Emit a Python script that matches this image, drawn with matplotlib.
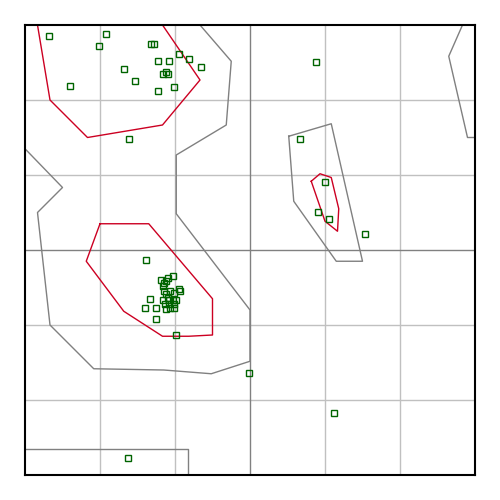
import numpy as np
import matplotlib.pyplot as plt

# Ramachandran-style plot: phi (x) vs psi (y), degrees

# core regions (red outlines)
core_beta_phi = [-170, -70, -40, -70, -130, -160, -170]
core_beta_psi = [180, 180, 136, 100, 90, 120, 180]
core_alpha_phi = [-120, -81, -30, -30, -49, -70, -101, -131, -120]
core_alpha_psi = [21, 21, -39, -68, -69, -69, -49, -9, 21]
core_left_phi = [49, 56, 65, 71, 70, 60, 49]
core_left_psi = [55, 61, 58, 33, 15, 23, 55]

# allowed regions (gray outlines)
allow_main_phi = [-40, -15, -19, -59, -59, 0, 0, -31, -69, -125, -160, -170, -150, -180, -180, -40]
allow_main_psi = [180, 151, 100, 76, 29, -48, -89, -99, -96, -95, -60, 30, 50, 81, 180, 180]
allow_wrap_phi = [-180, -50, -50]
allow_wrap_psi = [-159, -159, -180]
allow_right_phi = [170, 159, 174, 180]
allow_right_psi = [180, 155, 90, 90]
allow_left_phi = [31, 65, 90, 69, 35, 31]
allow_left_psi = [91, 101, -9, -9, 39, 91]

# residues
phi = [-161, -115, -121, -79, -77, -57, -49, -74, -65, -101, -39, -70, -67, -66,
       -92, -144, -61, -74, -97,
       53, 40, 60, 54, 63, 92,
       -83, -59, -1, 67, -98,
       -62, -66, -71, -67, -69, -70, -57, -69, -64, -56, -61, -67, -80, -70,
       -65, -62, -59, -66, -84, -75, -68, -65, -61, -67, -64, -61, -75]
psi = [171, 173, 163, 165, 165, 157, 153, 151, 151, 145, 146, 141, 142, 141,
       135, 131, 130, 127, 89,
       150, 89, 54, 30, 25, 13,
       -8, -68, -98, -130, -166,
       -21, -22, -24, -25, -26, -29, -31, -33, -33, -33, -34, -35, -39, -40,
       -40, -40, -40, -38, -46, -46, -43, -43, -43, -47, -46, -46, -55]

fig = plt.figure(figsize=(5, 5), dpi=100)
ax = fig.add_axes([0.05, 0.05, 0.9, 0.9])

for g in [-120, -60, 60, 120]:
    ax.axvline(g, color='#c0c0c0', lw=1, zorder=0)
    ax.axhline(g, color='#c0c0c0', lw=1, zorder=0)
ax.axvline(0, color='#808080', lw=1, zorder=0)
ax.axhline(0, color='#808080', lw=1, zorder=0)

for xs, ys in [(allow_main_phi, allow_main_psi), (allow_wrap_phi, allow_wrap_psi),
               (allow_right_phi, allow_right_psi), (allow_left_phi, allow_left_psi)]:
    ax.plot(xs, ys, color='#808080', lw=1, zorder=1)

for xs, ys in [(core_beta_phi, core_beta_psi), (core_alpha_phi, core_alpha_psi),
               (core_left_phi, core_left_psi)]:
    ax.plot(xs, ys, color='#cc0022', lw=1, zorder=2)

ax.plot(phi, psi, 's', ms=3.8, mfc='none', mec='#006400', mew=1, zorder=3)

ax.set_xlim(-180, 180)
ax.set_ylim(-180, 180)
ax.set_xticks([])
ax.set_yticks([])
for s in ax.spines.values():
    s.set_linewidth(1.5)
    s.set_color('black')

fig.savefig('out.png', dpi=100)
